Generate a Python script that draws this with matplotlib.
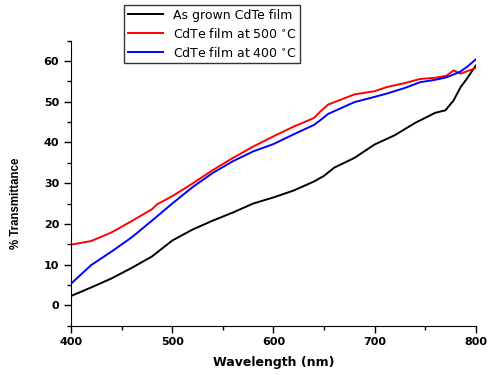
import matplotlib
matplotlib.use("Agg")
import matplotlib.pyplot as plt
from matplotlib.ticker import MultipleLocator

# values
wl_black = [400, 420, 440, 460, 480, 500, 520, 540, 560, 580, 600, 620, 640, 650,
            660, 680, 700, 720, 740, 760, 770, 778, 785, 791, 800]
t_black = [2.3, 4.4, 6.6, 9.2, 12.0, 15.9, 18.6, 20.8, 22.8, 25.0, 26.5, 28.2, 30.4, 31.8,
           33.8, 36.2, 39.5, 41.8, 44.8, 47.3, 47.9, 50.3, 53.6, 55.6, 58.9]

wl_red = [400, 420, 440, 460, 480, 485, 500, 520, 540, 560, 580, 600, 620, 640, 646,
          654, 680, 700, 712, 730, 745, 760, 771, 778, 785, 800]
t_red = [14.9, 15.8, 17.9, 20.7, 23.6, 24.8, 26.8, 29.9, 33.2, 36.2, 39.0, 41.5, 43.9, 46.0, 47.5,
         49.3, 51.8, 52.6, 53.6, 54.6, 55.6, 55.9, 56.4, 57.7, 56.9, 58.3]

wl_blue = [400, 420, 440, 460, 480, 500, 520, 540, 560, 580, 600, 620, 640, 646, 654,
           680, 700, 712, 730, 745, 760, 771, 784, 791, 800]
t_blue = [5.3, 9.9, 13.2, 16.7, 20.8, 25.0, 29.0, 32.5, 35.4, 37.8, 39.6, 42.0, 44.3, 45.4, 47.0,
          49.9, 51.2, 52.0, 53.4, 54.8, 55.4, 56.0, 57.3, 58.5, 60.4]

labels = ["As grown CdTe film", "CdTe film at 500 $^{\\circ}$C", "CdTe film at 400 $^{\\circ}$C"]

fig = plt.figure(figsize=(4.88, 3.75), dpi=100)
ax = fig.add_axes([0.1455, 0.1315, 0.8295, 0.76])

ax.plot(wl_black, t_black, color="black", lw=1.4, label=labels[0])
ax.plot(wl_red, t_red, color="red", lw=1.4, label=labels[1])
ax.plot(wl_blue, t_blue, color="blue", lw=1.4, label=labels[2])

ax.set_xlim(400, 800)
ax.set_ylim(-5, 65)
ax.xaxis.set_major_locator(MultipleLocator(100))
ax.xaxis.set_minor_locator(MultipleLocator(50))
ax.yaxis.set_major_locator(MultipleLocator(10))
ax.yaxis.set_minor_locator(MultipleLocator(5))

for s in ["top", "right"]:
    ax.spines[s].set_visible(False)
ax.tick_params(which="major", length=5, width=1, direction="out")
ax.tick_params(which="minor", length=3, width=1, direction="out")
for lab in ax.get_xticklabels() + ax.get_yticklabels():
    lab.set_fontweight("bold")
    lab.set_fontsize(8)

ax.set_xlabel("Wavelength (nm)", fontweight="bold", fontsize=9, labelpad=6)
ax.set_ylabel("% Transmittance", family="Liberation Sans", fontweight="bold", fontsize=8.3)
ax.yaxis.set_label_coords(-0.12, 0.43)

leg = fig.legend(loc="upper left", bbox_to_anchor=(0.254, 0.987), fontsize=9,
                 frameon=True, fancybox=False, edgecolor="black", handlelength=2.8,
                 borderaxespad=0, labelspacing=0.4, borderpad=0.3)
leg.get_frame().set_linewidth(1)

fig.savefig("out.png", dpi=100)
